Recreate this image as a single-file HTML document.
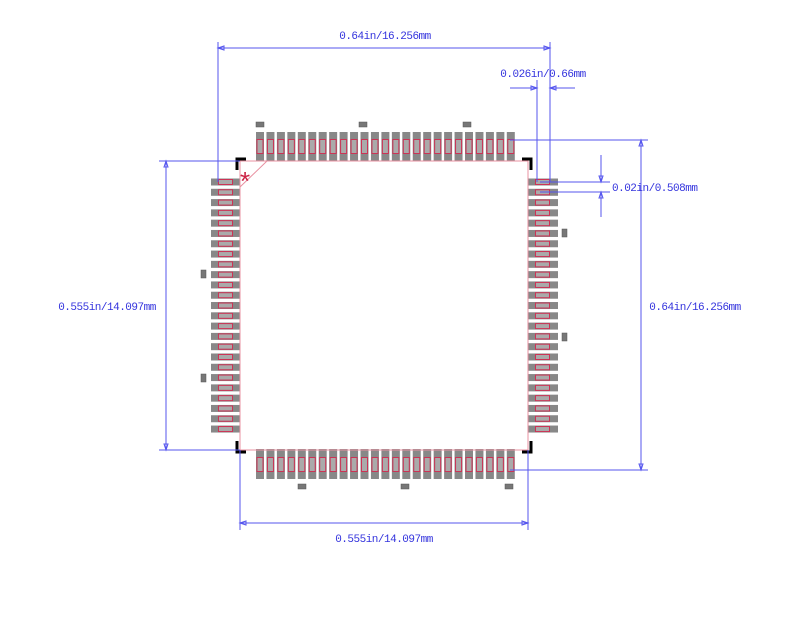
<!DOCTYPE html>
<html><head><meta charset="utf-8"><style>
html,body{margin:0;padding:0;background:#fff;}
svg{display:block;}
text{font-family:"Liberation Mono","Noto Sans CJK SC",monospace;font-size:11px;letter-spacing:-0.5px;fill:#3333dd;}
</style></head><body>
<svg id="s" width="800" height="627" viewBox="0 0 800 627" xmlns="http://www.w3.org/2000/svg">
<g id="pads"></g>
<rect x="240" y="161" width="288" height="289" fill="none" stroke="#e890a0" stroke-width="1"/>
<line x1="240" y1="187" x2="267" y2="161" stroke="#e890a0" stroke-width="1"/>
<text x="240" y="190" style="fill:#cc2244;font-size:26px;letter-spacing:0;font-family:'Liberation Sans',sans-serif">*</text>
<g stroke="#000" stroke-width="3" fill="none">
<polyline points="237,170 237,159 246,159"/>
<polyline points="522,159 531,159 531,170"/>
<polyline points="237,441 237,452 246,452"/>
<polyline points="522,452 531,452 531,441"/>
</g>
<g fill="#777" stroke="#555" stroke-width="0.5">
<rect x="256" y="122" width="8" height="5"/><rect x="359" y="122" width="8" height="5"/><rect x="463" y="122" width="8" height="5"/>
<rect x="298" y="484" width="8" height="5"/><rect x="401" y="484" width="8" height="5"/><rect x="505" y="484" width="8" height="5"/>
<rect x="201" y="270" width="5" height="8"/><rect x="201" y="374" width="5" height="8"/>
<rect x="562" y="229" width="5" height="8"/><rect x="562" y="333" width="5" height="8"/>
</g>
<g stroke="#5555ee" stroke-width="1" fill="none">
<line x1="218" y1="48" x2="550" y2="48"/>
<line x1="218" y1="42" x2="218" y2="182"/>
<line x1="550" y1="42" x2="550" y2="182"/>
<line x1="537" y1="80" x2="537" y2="182"/>
<line x1="510" y1="88" x2="537" y2="88"/>
<line x1="550" y1="88" x2="575" y2="88"/>
<line x1="540" y1="182" x2="610" y2="182"/>
<line x1="540" y1="192" x2="610" y2="192"/>
<line x1="601" y1="155" x2="601" y2="182"/>
<line x1="601" y1="192" x2="601" y2="217"/>
<line x1="166" y1="161" x2="166" y2="450"/>
<line x1="159" y1="161" x2="240" y2="161"/>
<line x1="159" y1="450" x2="240" y2="450"/>
<line x1="641" y1="140" x2="641" y2="470"/>
<line x1="510" y1="140" x2="648" y2="140"/>
<line x1="510" y1="470" x2="648" y2="470"/>
<line x1="240" y1="523" x2="528" y2="523"/>
<line x1="240" y1="450" x2="240" y2="530"/>
<line x1="528" y1="450" x2="528" y2="530"/>
<polygon points="218,48 224,46 224,50"/><polygon points="550,48 544,46 544,50"/>
<polygon points="537,88 531,86 531,90"/><polygon points="550,88 556,86 556,90"/>
<polygon points="601,182 599,176 603,176"/><polygon points="601,192 599,198 603,198"/>
<polygon points="166,161 164,167 168,167"/><polygon points="166,450 164,444 168,444"/>
<polygon points="641,140 639,146 643,146"/><polygon points="641,470 639,464 643,464"/>
<polygon points="240,523 246,521 246,525"/><polygon points="528,523 522,521 522,525"/>
</g>
<text x="385" y="39" text-anchor="middle">0.64in/16.256mm</text>
<text x="543" y="77" text-anchor="middle">0.026in/0.66mm</text>
<text x="612" y="191">0.02in/0.508mm</text>
<text x="107" y="310" text-anchor="middle">0.555in/14.097mm</text>
<text x="695" y="310" text-anchor="middle">0.64in/16.256mm</text>
<text x="384" y="542" text-anchor="middle">0.555in/14.097mm</text>
</svg>
<script>
var g=document.getElementById('pads'),h='';
function r(x,y,w,hh,f,s){h+='<rect x="'+x+'" y="'+y+'" width="'+w+'" height="'+hh+'" fill="'+f+'"'+(s?' stroke="#cc3355" stroke-width="1"':'')+'/>';}
for(var i=0;i<25;i++){
 var p=i*10.45;
 var x=256+p; r(x,132,8,29,'#888'); r(x+1,139.5,6,14,'#aaa',1);
 r(x,449,8,30,'#888'); r(x+1,457.5,6,14,'#aaa',1);
 var y=178.5+p*0.985; r(211,y,29,7,'#888'); r(218.5,y+1,14,5,'#aaa',1);
 r(528,y,30,7,'#888'); r(535.5,y+1,14,5,'#aaa',1);
}
g.innerHTML=h;
</script>
</body></html>
